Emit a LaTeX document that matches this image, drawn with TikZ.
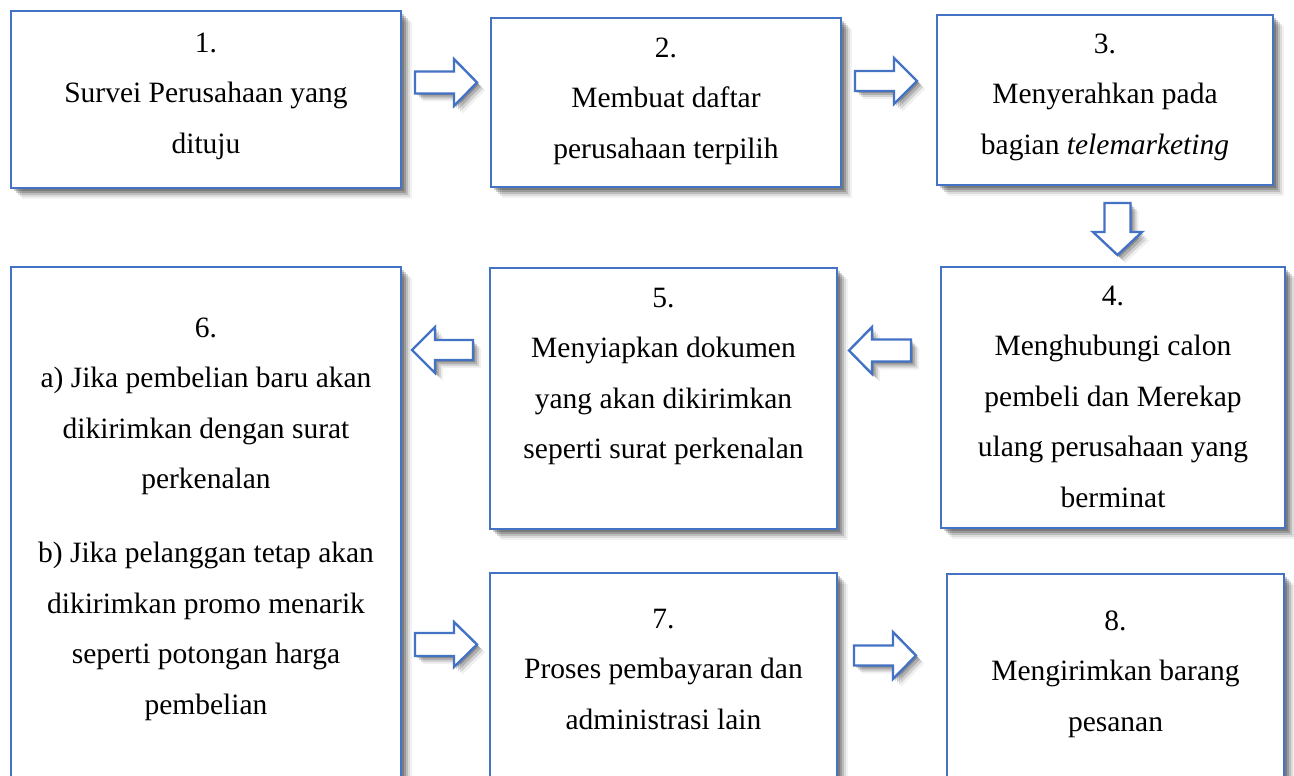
\documentclass[tikz,border=0pt]{standalone}
\usepackage{fontspec}
\setmainfont{Liberation Serif}
\usetikzlibrary{calc,backgrounds}
\definecolor{boxblue}{HTML}{4472C4}
\begin{document}
\begin{tikzpicture}[x=1pt,y=-1pt,
  box/.style={draw=boxblue, line width=2.7pt, fill=white, inner sep=0pt, outer sep=0pt, anchor=north west},
  shadowlayer/.style={fill=black, opacity=#1},
  txt/.style={align=center, inner sep=0pt, anchor=north, font=\fontsize{29.5}{50.5}\selectfont},
  arrowline/.style={draw=boxblue, line width=2.4pt, fill=white, line join=miter},
  pics/barrow/.style n args={5}{code={
    \foreach \s/\o in {2/.2,4/.17,6/.12,8/.06}{
      \fill[black, opacity=\o, shift={(\s,\s)}, rotate=#5]
        (-#1,-#2) -- (#1-#4,-#2) -- (#1-#4,-#3) -- (#1,0) -- (#1-#4,#3) -- (#1-#4,#2) -- (-#1,#2) -- cycle;}
    \path[arrowline, rotate=#5]
        (-#1,-#2) -- (#1-#4,-#2) -- (#1-#4,-#3) -- (#1,0) -- (#1-#4,#3) -- (#1-#4,#2) -- (-#1,#2) -- cycle;
  }}
]
\useasboundingbox (0,0) rectangle (1294,776);
\clip (0,0) rectangle (1294,776);

% boxes
\node[box, minimum width=390pt, minimum height=177pt] (b1) at (11,11) {};
\node[box, minimum width=350pt, minimum height=169pt] (b2) at (491,18) {};
\node[box, minimum width=336pt, minimum height=170pt] (b3) at (937,15) {};
\node[box, minimum width=344pt, minimum height=261pt] (b4) at (941,267) {};
\node[box, minimum width=347pt, minimum height=261pt] (b5) at (490,268) {};
\node[box, minimum width=390pt, minimum height=533pt] (b6) at (11,267) {};
\node[box, minimum width=347pt, minimum height=227pt] (b7) at (490,573) {};
\node[box, minimum width=337pt, minimum height=226pt] (b8) at (947,574) {};

% box shadows
\begin{scope}[on background layer]
  \fill[white] (0,0) rectangle (1294,776);
  \foreach \b in {b1,b2,b3,b4,b5,b6,b7,b8}{
    \foreach \k/\o in {3/.2,5/.18,7/.14,9/.09,11/.05}{
      \fill[shadowlayer=\o] ($(\b.north west)+(\k,\k)$) rectangle ($(\b.south east)+(\k,\k)$);
    }
  }
\end{scope}

% texts
\node[txt] (t1) at ($(b1.north)+(0,5.65)$) {\strut 1.\\Survei Perusahaan yang\\dituju};
\node[txt] (t2) at ($(b2.north)+(0,3.65)$) {\strut 2.\\Membuat daftar\\perusahaan terpilih};
\node[txt] (t3) at ($(b3.north)+(0,2.65)$) {\strut 3.\\Menyerahkan pada\\bagian \textit{telemarketing}};
\node[txt] (t4) at ($(b4.north)+(0,2.65)$) {\strut 4.\\Menghubungi calon\\pembeli dan Merekap\\ulang perusahaan yang\\berminat};
\node[txt] (t5) at ($(b5.north)+(0,3.65)$) {\strut 5.\\Menyiapkan dokumen\\yang akan dikirimkan\\seperti surat perkenalan};
\node[txt] (t6) at ($(b6.north)+(0,34.65)$) {\strut 6.\\a) Jika pembelian baru akan\\dikirimkan dengan surat\\perkenalan\\[23.5pt]b) Jika pelanggan tetap akan\\dikirimkan promo menarik\\seperti potongan harga\\pembelian};
\node[txt] (t7) at ($(b7.north)+(0,19.65)$) {\strut 7.\\Proses pembayaran dan\\administrasi lain};
\node[txt] (t8) at ($(b8.north)+(0,20.65)$) {\strut 8.\\Mengirimkan barang\\pesanan};

% block arrows
\pic at (446,82.5) {barrow={31}{11}{23.5}{23}{0}};
\pic at (886,81) {barrow={31}{10}{23}{23}{0}};
\pic at (1117.5,229) {barrow={26}{13}{24.5}{23}{-90}};
\pic at (880,350.5) {barrow={31}{11}{23.5}{23}{180}};
\pic at (442.5,350) {barrow={30.5}{10}{23}{23}{180}};
\pic at (446,644.5) {barrow={31}{11.5}{22.5}{23}{0}};
\pic at (885,655.5) {barrow={31}{10}{23.5}{23}{0}};
\end{tikzpicture}
\end{document}
